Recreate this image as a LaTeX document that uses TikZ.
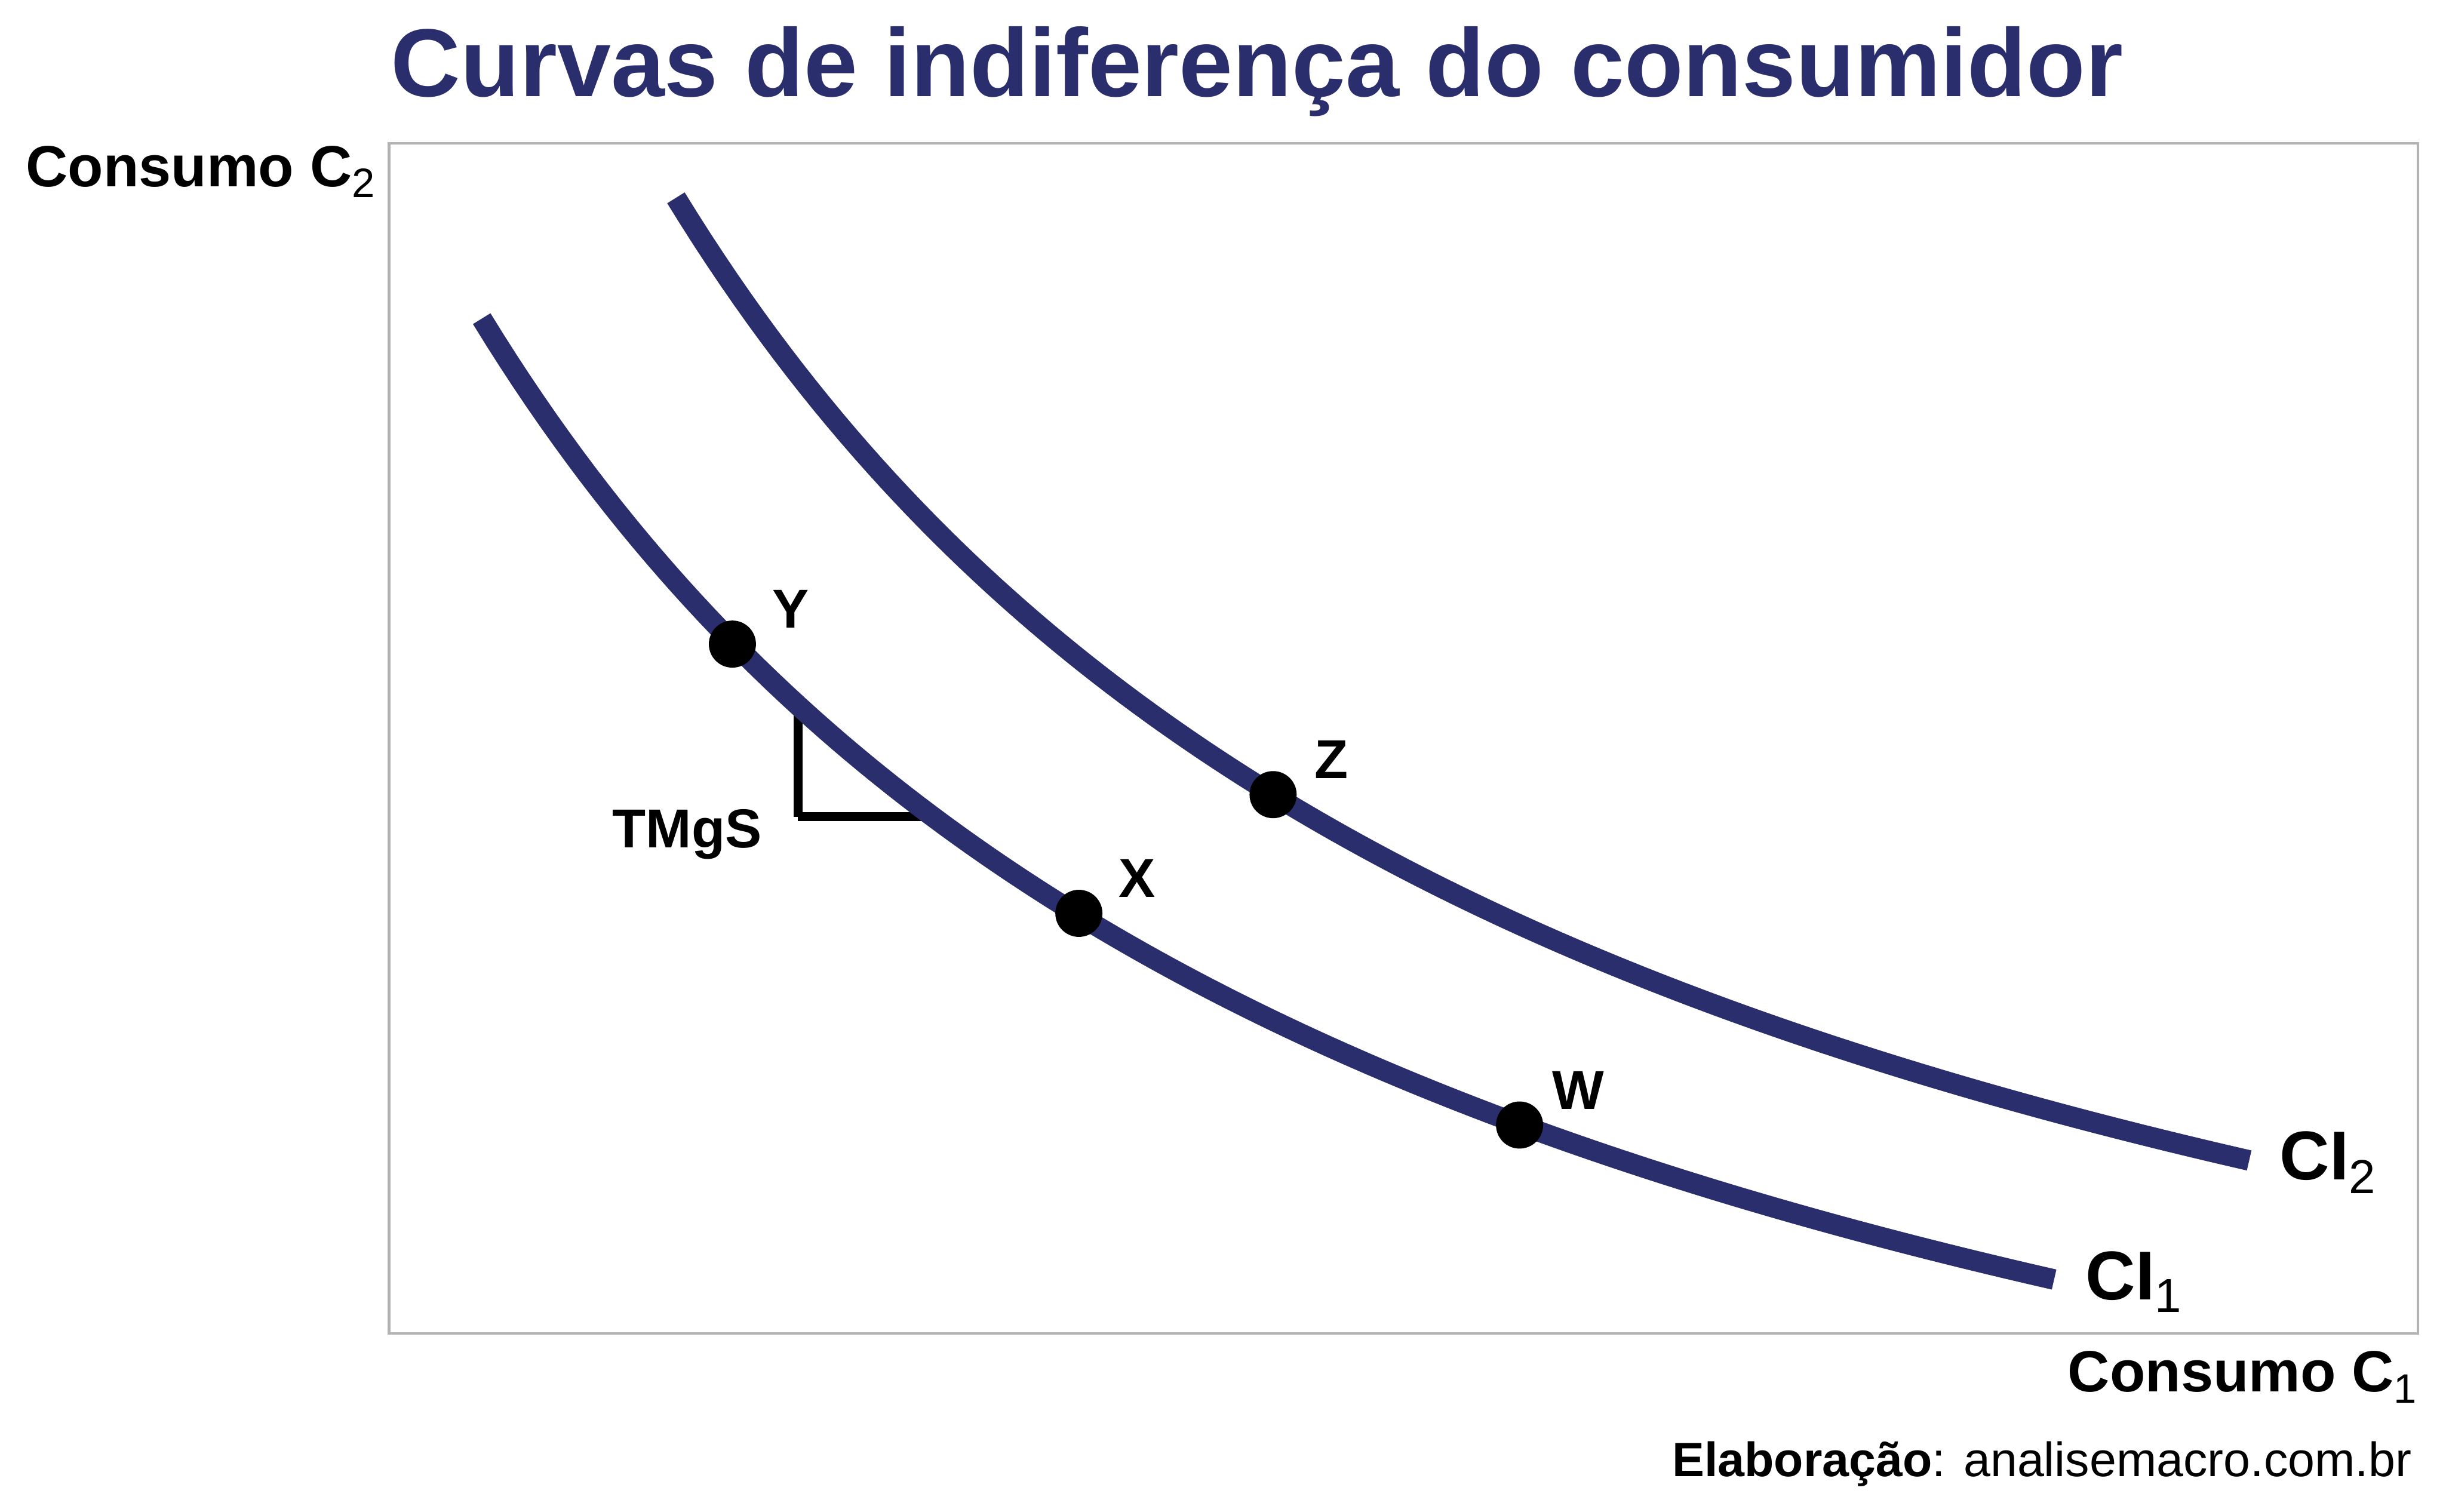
\documentclass[tikz,border=0pt]{standalone}
\usepackage{fontspec}
\setmainfont{Liberation Sans}
\usepackage{tikz}
\definecolor{curvenavy}{RGB}{42,46,108}
\definecolor{panelgray}{RGB}{179,179,179}
\newcommand{\subidx}[3]{\raisebox{-#1}{\fontsize{#2}{#2}\selectfont\mdseries #3}}

\begin{document}
\begin{tikzpicture}[
    curve/.style={curvenavy,line width=3.75pt},
    dot/.style={circle,fill=black,inner sep=0pt,minimum size=0.302cm},
    ptlabel/.style={font=\fontsize{10}{12}\selectfont\bfseries,inner sep=0pt},
    axislabel/.style={font=\fontsize{10.6}{12}\selectfont\bfseries,inner sep=0pt},
    cilabel/.style={font=\fontsize{12.6}{14}\selectfont\bfseries,inner sep=0pt,anchor=base west}
]
    \useasboundingbox (0,0) rectangle (15.68,9.69);

    % Title
    \node[anchor=base west,inner sep=0pt,text=curvenavy,font=\fontsize{17.6}{20}\selectfont\bfseries] (title) at (2.50,9.07) {Curvas de indiferença do consumidor};

    % Panel
    \draw[panelgray,line width=0.45pt] (2.494,1.141) rectangle (15.50,8.772);

    % Axis labels
    \node[axislabel,anchor=base west] (ylab) at (0.16,8.493) {Consumo C\subidx{0.068cm}{7.5}{2}};
    \node[axislabel,anchor=base east] (xlab) at (15.50,0.77) {Consumo C\subidx{0.075cm}{7.5}{1}};

    % TMgS triangle
    \coordinate (tTop) at (5.116,5.168);
    \coordinate (tCorner) at (5.116,4.455);
    \coordinate (tEnd) at (5.979,4.455);
    \draw[line width=1.7pt] (tTop) -- (tCorner);
    \draw[line width=1.7pt] (tCorner) -- (tEnd);
    \node[ptlabel,anchor=base east] (tmgs) at (4.89,4.257) {TMgS};

    % Indifference curves
    \draw[curve] plot[domain=3.088:13.169,samples=120] (\x,{-2.19+59.2/(\x+2.93)});
    \draw[curve] plot[domain=4.333:14.418,samples=120] (\x,{-1.451+59.73/(\x+1.717)});
    \node[cilabel] (ci1) at (13.364,1.36) {CI\subidx{0.084cm}{8.7}{1}};
    \node[cilabel] (ci2) at (14.607,2.128) {CI\subidx{0.088cm}{8.7}{2}};

    % Points
    \node[dot] (Y) at (4.695,5.561) {};
    \node[dot] (X) at (6.916,3.835) {};
    \node[dot] (Z) at (8.161,4.596) {};
    \node[dot] (W) at (9.741,2.478) {};
    \node[ptlabel] (labY) at ([shift={(0.374,0.224)}]Y) {Y};
    \node[ptlabel] (labX) at ([shift={(0.374,0.224)}]X) {X};
    \node[ptlabel] (labZ) at ([shift={(0.374,0.224)}]Z) {Z};
    \node[ptlabel] (labW) at ([shift={(0.374,0.224)}]W) {W};

    % Source
    \node[anchor=base east,inner sep=0pt,font=\fontsize{8.8}{10}\selectfont] (source) at (15.465,0.225) {\textbf{Elaboração}: analisemacro.com.br};
\end{tikzpicture}
\end{document}
